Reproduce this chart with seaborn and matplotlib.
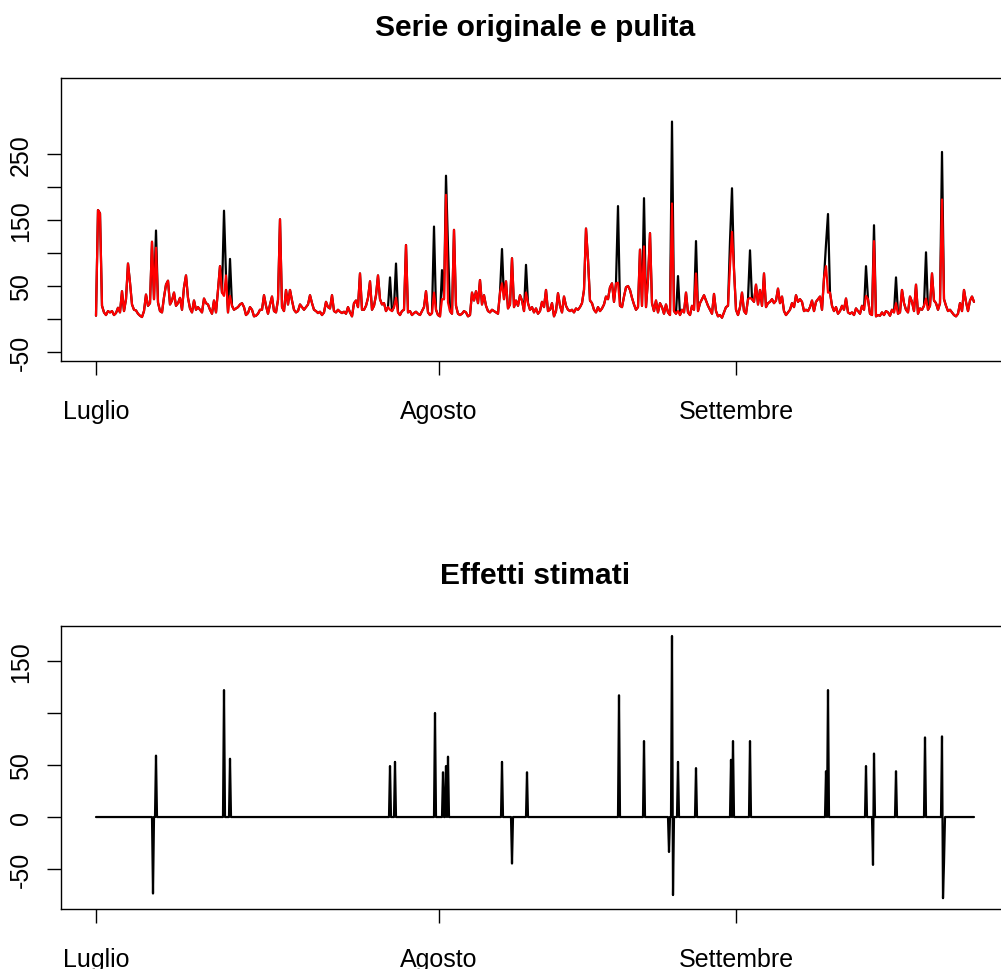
import numpy as np
import pandas as pd
import matplotlib
matplotlib.use("Agg")
import matplotlib.pyplot as plt
import seaborn as sns

# ---------------- data ----------------
clean = [
    5, 165, 160, 20, 10, 6, 12, 10, 12, 6, 9, 17, 10, 42, 12, 30, 84, 55, 22, 14,
    13, 8, 5, 3, 12, 37, 20, 24, 117, 30, 108, 25, 12, 10, 33, 52, 58, 22, 28, 40,
    20, 24, 32, 14, 48, 66, 32, 16, 10, 28, 14, 18, 14, 10, 31, 24, 22, 14, 8, 28,
    10, 44, 80, 40, 35, 66, 10, 35, 20, 14, 16, 18, 22, 24, 18, 6, 9, 18, 14, 4,
    5, 8, 14, 14, 36, 20, 8, 22, 34, 12, 10, 29, 151, 18, 12, 44, 22, 44, 28, 14,
    10, 12, 22, 18, 14, 18, 22, 36, 24, 14, 12, 9, 11, 6, 10, 26, 18, 16, 36, 12,
    10, 14, 11, 9, 11, 8, 18, 10, 4, 24, 28, 18, 69, 14, 14, 20, 32, 57, 14, 20,
    36, 66, 30, 22, 24, 12, 18, 14, 12, 18, 32, 10, 6, 12, 14, 112, 10, 12, 6, 9,
    11, 8, 6, 12, 18, 42, 10, 6, 9, 40, 14, 6, 4, 30, 30, 188, 25, 12, 8, 135,
    20, 8, 6, 8, 12, 10, 4, 6, 40, 28, 42, 24, 59, 22, 36, 20, 12, 10, 14, 12,
    10, 8, 40, 54, 30, 57, 16, 22, 92, 18, 28, 20, 36, 28, 12, 40, 24, 14, 18, 10,
    16, 8, 12, 26, 18, 44, 12, 14, 24, 4, 12, 39, 20, 10, 34, 20, 14, 12, 14, 10,
    16, 14, 18, 24, 44, 137, 90, 28, 24, 14, 10, 18, 12, 16, 22, 34, 30, 48, 54, 26,
    54, 55, 20, 18, 34, 48, 50, 44, 32, 22, 14, 18, 105, 20, 110, 18, 60, 130, 24, 12,
    28, 10, 24, 18, 8, 22, 10, 6, 175, 12, 8, 12, 6, 14, 10, 40, 10, 6, 20, 14,
    69, 12, 24, 30, 36, 28, 20, 14, 8, 38, 12, 4, 6, 2, 10, 18, 20, 80, 132, 75,
    14, 6, 18, 40, 12, 8, 30, 32, 30, 26, 52, 22, 44, 20, 69, 18, 24, 26, 30, 24,
    28, 46, 24, 34, 12, 6, 10, 14, 24, 18, 36, 26, 30, 26, 12, 14, 12, 18, 28, 12,
    26, 30, 34, 14, 62, 80, 40, 40, 20, 12, 18, 8, 12, 20, 14, 31, 10, 8, 10, 6,
    16, 12, 8, 20, 14, 35, 30, 8, 6, 118, 4, 6, 5, 10, 6, 12, 10, 5, 14, 10,
    24, 8, 10, 44, 24, 14, 10, 34, 26, 12, 52, 8, 16, 14, 20, 31, 14, 20, 69, 28,
    24, 14, 24, 181, 30, 20, 12, 14, 10, 6, 4, 8, 24, 12, 44, 26, 12, 28, 34, 26,
]

# original series: where it differs from the cleaned one (outliers)
outlier_idx = [30, 64, 67, 147, 150, 169, 173, 175, 176, 203, 215, 261, 274, 288,
               291, 300, 317, 318, 327, 365, 366, 385, 389, 400, 415, 423]
outlier_val = [134, 164, 91, 63, 84, 140, 74, 217, 109, 106, 82, 171, 183, 299,
               65, 118, 118, 198, 104, 113, 159, 80, 142, 63, 101, 253]

# estimated effects (non-zero entries only), on a half-step time grid
effect_pos = [28.5, 30, 64, 67, 147, 149.5, 169.5, 173.5, 175, 176, 203, 208,
              215.5, 261.5, 274, 286.5, 288, 288.5, 291, 300, 317.5, 318.5, 327,
              365, 366, 385, 388.5, 389, 400, 414.5, 423, 423.5, 424]
effect_val = [-73.5, 59, 122, 56, 49, 53, 100, 43, 49, 58, 53, -44.7, 43, 117,
              73, -33.6, 174, -75, 53, 47, 55, 73, 73, 44, 122, 49, -46,
              61, 44, 76.5, 77.5, -78, -44]

month_labels = ["Luglio", "Agosto", "Settembre"]
month_pos = [0, 171.5, 320]

# ---------------- build frames ----------------
n = len(clean)
t = np.arange(n)
original = np.array(clean, dtype=float)
original[outlier_idx] = outlier_val

t_fine = np.arange(2 * n - 1) / 2.0
effects = np.zeros(len(t_fine))
effects[(np.array(effect_pos) * 2).astype(int)] = effect_val

df_top = pd.DataFrame({"t": t, "original": original, "pulita": np.array(clean, float)})
df_eff = pd.DataFrame({"t": t_fine, "effetti": effects})

# ---------------- style ----------------
sns.set_style("ticks")
plt.rcParams['font.family'] = ['Liberation Sans', 'DejaVu Sans']
plt.rcParams['axes.linewidth'] = 1.0
plt.rcParams['axes.edgecolor'] = 'black'
plt.rcParams['text.color'] = 'black'
plt.rcParams['axes.titlecolor'] = 'black'

fig = plt.figure(figsize=(10.01, 9.70), dpi=100)
W, H = 1001, 970
ax1 = fig.add_axes([61 / W, 1 - 362 / H, 948 / W, 283 / H])
ax2 = fig.add_axes([61 / W, 1 - 910 / H, 948 / W, 283 / H])

sns.lineplot(data=df_top, x="t", y="original", color="black", lw=1.6,
             estimator=None, ax=ax1)
sns.lineplot(data=df_top, x="t", y="pulita", color="red", lw=1.6,
             estimator=None, ax=ax1)
sns.lineplot(data=df_eff, x="t", y="effetti", color="black", lw=1.6,
             estimator=None, ax=ax2)

xlim = (-17.5, 456.5)
for ax in (ax1, ax2):
    ax.set_xlim(*xlim)
    ax.set_xlabel("")
    ax.set_ylabel("")
    ax.set_xticks(month_pos)
    ax.set_xticklabels(month_labels)
    for s in ax.spines.values():
        s.set_visible(True)
        s.set_color("black")
        s.set_linewidth(1.0)
    ax.tick_params(axis="both", direction="out", length=10.3, width=1.0,
                   labelsize=18, colors="black")
    ax.tick_params(axis="x", pad=17)
    ax.tick_params(axis="y", pad=10)
    ax.set_facecolor("white")

ax1.set_ylim(-63.6, 365)
ax1.set_yticks([-50, 0, 50, 100, 150, 200, 250])
ax1.set_yticklabels(["-50", "", "50", "", "150", "", "250"],
                    rotation=90, va="center")

ax2.set_ylim(-88.4, 183.6)
ax2.set_yticks([-50, 0, 50, 100, 150])
ax2.set_yticklabels(["-50", "0", "50", "", "150"], rotation=90, va="center")

ax1.set_title("Serie originale e pulita", fontsize=21.6, fontweight="bold",
              pad=31, color="black")
ax2.set_title("Effetti stimati", fontsize=21.6, fontweight="bold",
              pad=31, color="black")

fig.savefig("out.png", dpi=100, facecolor="white")
